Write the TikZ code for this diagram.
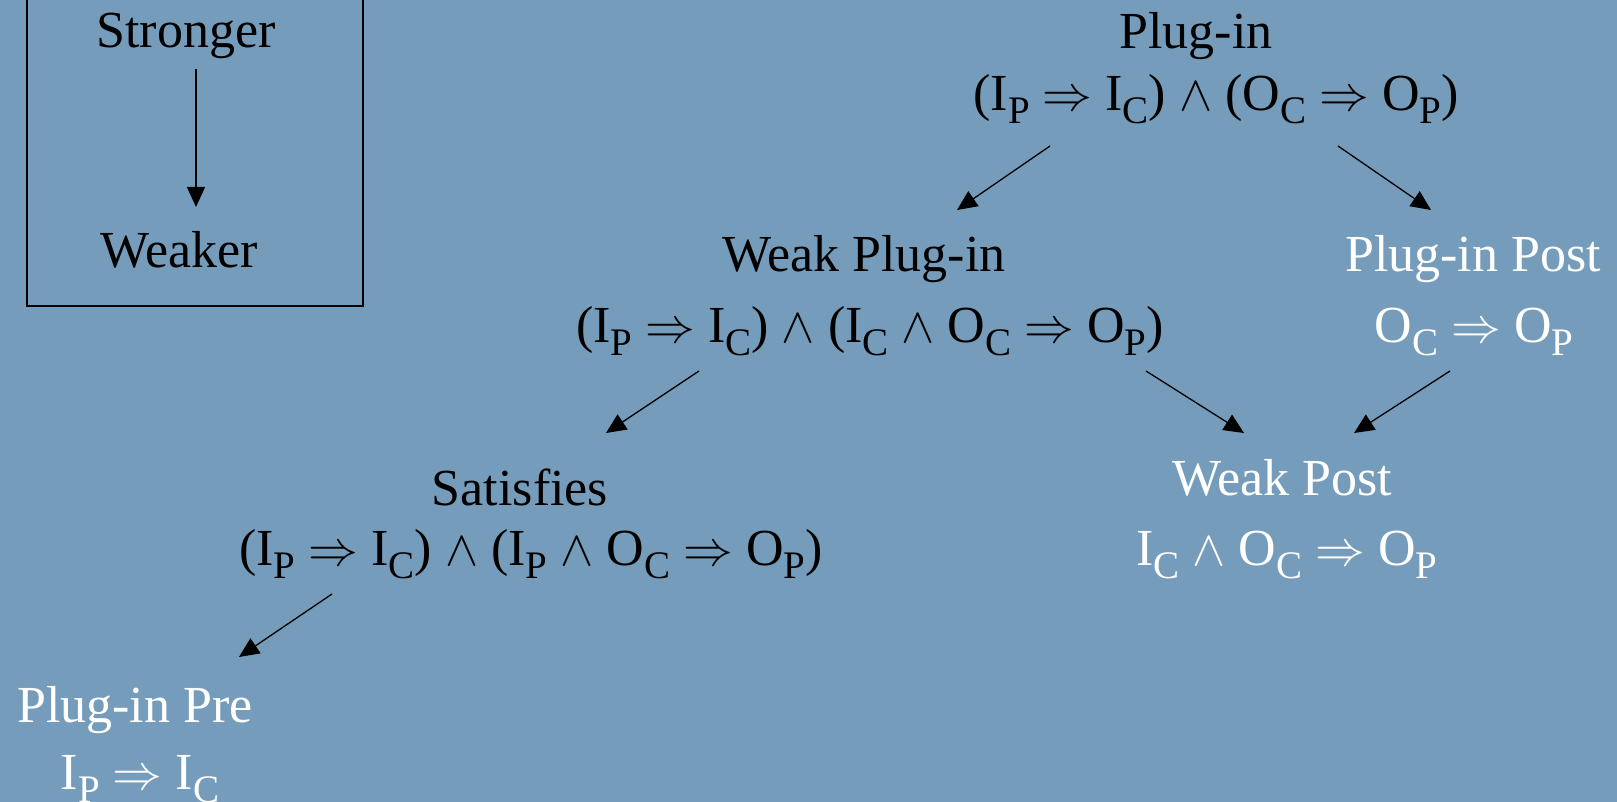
\documentclass[tikz,border=0pt]{standalone}
\usepackage{fontspec}
\setmainfont{Liberation Serif}
\usetikzlibrary{arrows.meta, calc}
\definecolor{slide}{RGB}{117,157,187}
\newcommand\idx[1]{\raisebox{-0.25em}{\fontsize{19.5}{19.5}\selectfont #1}}

\begin{document}
\begin{tikzpicture}[
    x=0.5pt, y=-0.5pt,
    lbl/.style={font=\fontsize{26}{30}\selectfont, inner sep=0pt, anchor=base},
    dark/.style={lbl, text=black},
    light/.style={lbl, text=white},
    arrow/.style={-{Triangle[length=10pt, width=9pt]}, line width=0.65pt}
]
    \useasboundingbox (0,0) rectangle (1617,802);
    \fill[slide] (0,0) rectangle (1617,802);
    % legend
    \draw[line width=0.9pt] (27,-20) |- (363,306) -- (363,-20);
    \node[dark] (strong) at (186,48) {Stronger};
    \node[dark] (weak) at (179,268) {Weaker};
    \draw[arrow] ($(strong.base)+(10,21)$) -- ($(weak.base)+(17,-61)$);
    % lattice
    \node[dark] (plug) at (1196,49) {Plug-in};
    \node[dark] (plugf) at (1216,111) {(I\idx{P} $\Rightarrow$ I\idx{C}) $\wedge$ (O\idx{C} $\Rightarrow$ O\idx{P})};
    \node[dark] (wplug) at (864,271) {Weak Plug-in};
    \node[dark] (wplugf) at (870,343) {(I\idx{P} $\Rightarrow$ I\idx{C}) $\wedge$ (I\idx{C} $\wedge$ O\idx{C} $\Rightarrow$ O\idx{P})};
    \node[light] (ppost) at (1473,271) {Plug-in Post};
    \node[light] (ppostf) at (1474,343) {O\idx{C} $\Rightarrow$ O\idx{P}};
    \node[dark] (sat) at (520,505) {Satisfies};
    \node[dark] (satf) at (531,565) {(I\idx{P} $\Rightarrow$ I\idx{C}) $\wedge$ (I\idx{P} $\wedge$ O\idx{C} $\Rightarrow$ O\idx{P})};
    \node[light] (wpost) at (1282,495) {Weak Post};
    \node[light] (wpostf) at (1287,565) {I\idx{C} $\wedge$ O\idx{C} $\Rightarrow$ O\idx{P}};
    \node[light] (ppre) at (135,722) {Plug-in Pre};
    \node[light] (ppref) at (140,789) {I\idx{P} $\Rightarrow$ I\idx{C}};
    % implications
    \draw[arrow] ($(plugf.base)+(-166,35)$) -- ($(wplug.base)+(93,-61)$);
    \draw[arrow] ($(plugf.base)+(122,35)$) -- ($(ppost.base)+(-42,-61)$);
    \draw[arrow] ($(wplugf.base)+(-171,28)$) -- ($(sat.base)+(86,-72)$);
    \draw[arrow] ($(wplugf.base)+(276,28)$) -- ($(wpost.base)+(-38,-62)$);
    \draw[arrow] ($(ppostf.base)+(-24,28)$) -- ($(wpost.base)+(72,-62)$);
    \draw[arrow] ($(satf.base)+(-199,29)$) -- ($(ppre.base)+(104,-65)$);
\end{tikzpicture}
\end{document}
